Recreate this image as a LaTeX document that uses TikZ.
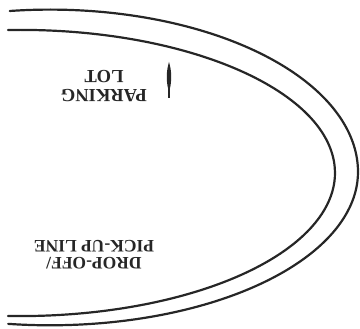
\documentclass[tikz,border=0pt]{standalone}
\usepackage{fontspec}
\setmainfont{Liberation Serif}
\begin{document}
\begin{tikzpicture}[x=1pt,y=1pt,
  road/.style={line width=2.2pt, line cap=round, black!85},
  label/.style={font=\bfseries\fontsize{17.5}{17}\selectfont, align=center, rotate=180, inner sep=0pt, black!85}]
\useasboundingbox (0,0) rectangle (360,329);
% outer curve
\draw[road] (50,157) ++(97.5:308 and 162.4) arc[start angle=97.5, end angle=0, x radius=308, y radius=162.4]
  arc[start angle=0, end angle=-97.8, x radius=308, y radius=153.3];
% inner curve
\draw[road] (20,156) ++(92.2:315 and 143.1) arc[start angle=92.2, end angle=-92.2, x radius=315, y radius=143.1];
% labels
\node[label, font=\bfseries\fontsize{18.5}{19}\selectfont] (parking) at (104,243) {PARKING\\LOT};
\node[label] (dropoff) at (94,74) {DROP-OFF/\\PICK-UP LINE};
% marker
\fill[black!85] (169,267) .. controls (171.8,258) and (171.8,248) .. (169.8,240) -- (168.2,240) .. controls (166.2,248) and (166.2,258) .. (169,267) -- cycle;
\draw[black!85, line width=1.4pt] (169,242) -- (169,231);
\end{tikzpicture}
\end{document}
